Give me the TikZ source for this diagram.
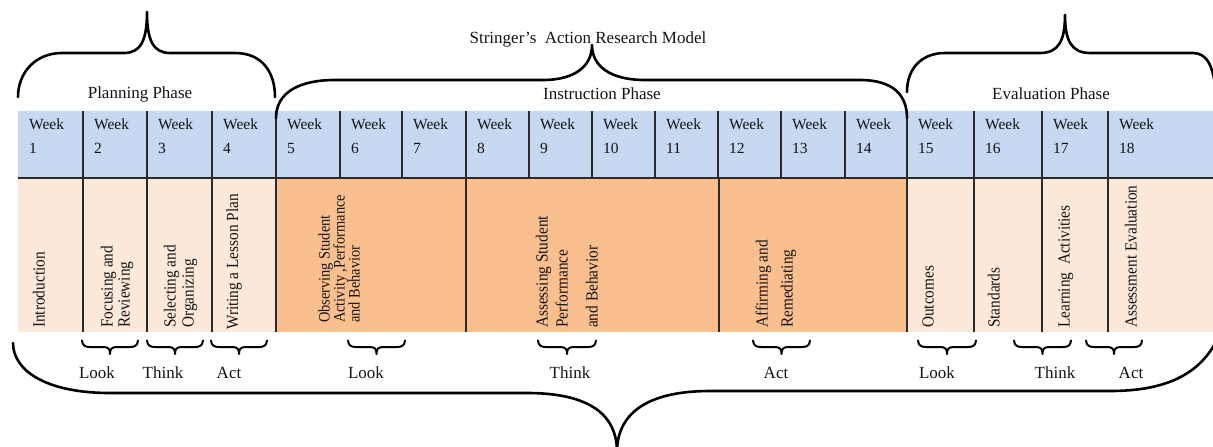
\documentclass[tikz,border=0pt]{standalone}
\usepackage{fontspec}
\usepackage{graphicx}
\setmainfont{Liberation Serif}
\definecolor{weekblue}{HTML}{C6D9F1}
\definecolor{peach}{HTML}{FDE9D9}
\definecolor{orng}{HTML}{FABF8F}
\definecolor{gridc}{HTML}{2B2B2B}
\definecolor{txt}{HTML}{141414}
\newcommand\vtx[1]{\scalebox{0.9}[1]{#1}}
\newcommand\mybrace[2]{%
  \pgfmathsetmacro\sbL{#1}\pgfmathsetmacro\sbR{#2}\pgfmathsetmacro\sbC{(#1+#2)/2}%
  \draw[smallbrace] (\sbL,340.5) .. controls (\sbL+0.5,345.5) and (\sbL+3,347) .. (\sbL+8,347) -- (\sbC-7,347)
    .. controls (\sbC-1.5,347) and (\sbC,349) .. (\sbC,354) .. controls (\sbC,349) and (\sbC+1.5,347) .. (\sbC+7,347)
    -- (\sbR-8,347) .. controls (\sbR-3,347) and (\sbR-0.5,345.5) .. (\sbR,340.5);}
\begin{document}
\begin{tikzpicture}[x=1pt,y=-1pt,
  wk/.style={font=\fontsize{15.5}{17}\selectfont, anchor=base west, inner sep=0pt, text=txt},
  vt/.style={font=\fontsize{17}{19}\selectfont, rotate=90, anchor=base west, inner sep=0pt, text=txt},
  vts/.style={vt, font=\fontsize{16}{18}\selectfont},
  lbl/.style={font=\fontsize{17}{20}\selectfont, anchor=base, inner sep=0pt, text=txt},
  bigbrace/.style={line width=2.6pt, line cap=round, line join=round},
  smallbrace/.style={line width=2pt, line cap=round, line join=round},
  gridline/.style={line width=1.1pt, draw=gridc}]
\useasboundingbox (0,0) rectangle (1213,447);
\clip (0,0) rectangle (1213,447);
\fill[white] (0,0) rectangle (1213,447);

% table backgrounds
\fill[weekblue] (18,111) rectangle (1213,178);
\fill[peach] (18,178) rectangle (276,332);
\fill[orng] (276,178) rectangle (907,332);
\fill[peach] (907,178) rectangle (1213,332);

% grid
\draw[gridline] (18,178) -- (1213,178);
\foreach \x in {83,147,212,276,340,402,466,529,592,655,718,781,845,907,974,1042,1108}
  \draw[gridline] (\x,111) -- (\x,178);
\foreach \x in {83,147,212,276,466,719,907,974,1042,1108}
  \draw[gridline] (\x,178) -- (\x,332);

% week labels
\foreach \x [count=\i] in {18,83,147,212,276,340,402,466,529,592,655,718,781,845,907,974,1042,1108} {
  \node[wk] (w\i) at (\x+11,129) {Week};
  \node[wk] (n\i) at (\x+11,153) {\i};
}

% vertical activity texts
\node[vt] (t1) at (44.5,328) {\vtx{Introduction}};
\node[vt] (t2a) at (112.5,328) {\vtx{Focusing and}};
\node[vt] (t2b) at (129.5,328) {\vtx{Reviewing}};
\node[vt] (t3a) at (175.5,328) {\vtx{Selecting and}};
\node[vt] (t3b) at (193.5,328) {\vtx{Organizing}};
\node[vt] (t4) at (238,330) {\vtx{Writing a Lesson Plan}};
\node[vts] (t5a) at (329.5,323) {\vtx{Observing Student}};
\node[vts] (t5b) at (344.5,323) {\vtx{Activity ,Performance}};
\node[vts] (t5c) at (359.5,323) {\vtx{and Behavior}};
\node[vt] (t6a) at (547.5,328) {\vtx{Assessing Student}};
\node[vt] (t6b) at (567.5,328) {\vtx{Performance}};
\node[vt] (t6c) at (597.5,328) {\vtx{and Behavior}};
\node[vt] (t7a) at (767.5,328) {\vtx{Affirming and}};
\node[vt] (t7b) at (792.5,328) {\vtx{Remediating}};
\node[vt] (t8) at (933.5,328) {\vtx{Outcomes}};
\node[vt] (t9) at (999.5,328) {\vtx{Standards}};
\node[vt] (t10) at (1069.5,328) {\vtx{Learning\ \ Activities}};
\node[vt] (t11) at (1136.5,328) {\vtx{Assessment Evaluation}};

% phase labels and title
\node[lbl] (title) at (588,43) {Stringer’s\ \ Action Research Model};
\node[lbl] (pp) at (140,98) {Planning Phase};
\node[lbl] (ip) at (602,99) {Instruction Phase};
\node[lbl] (ep) at (1051,99) {Evaluation Phase};

% top braces
\draw[bigbrace] (18,97) .. controls (18,72) and (36,53) .. (62,53) -- (124,53)
  .. controls (141,53) and (147,40) .. (147,12)
  .. controls (147,40) and (153,53) .. (170,53) -- (235,53)
  .. controls (262,53) and (275,72) .. (275,97);
\draw[bigbrace] (276,118) .. controls (276,92) and (300,80) .. (335,80) -- (543,80)
  .. controls (575,80) and (592,66) .. (592,45)
  .. controls (592,66) and (610,80) .. (645,80) -- (860,80)
  .. controls (893,80) and (907,95) .. (907,118);
\draw[bigbrace] (907,92) .. controls (907,68) and (922,53) .. (945,53) -- (1040,53)
  .. controls (1059,53) and (1065,40) .. (1065,15)
  .. controls (1065,40) and (1071,53) .. (1090,53) -- (1193,53)
  .. controls (1207,53) and (1214,66) .. (1216,95);

% bottom big brace
\draw[bigbrace] (13,343) .. controls (13,370) and (45,393) .. (110,393) -- (527,393)
  .. controls (590,393) and (617,415) .. (617,452)
  .. controls (617,415) and (645,391) .. (710,391) -- (1110,391)
  .. controls (1165,391) and (1200,375) .. (1218,338);

% small braces
\mybrace{82}{138}
\mybrace{147}{203}
\mybrace{211}{267}
\mybrace{348}{405}
\mybrace{538}{596}
\mybrace{753}{810}
\mybrace{918}{976}
\mybrace{1014}{1071}
\mybrace{1086}{1142}

% look / think / act
\node[lbl] (l1) at (97,378) {Look};
\node[lbl] (k1) at (163,378) {Think};
\node[lbl] (a1) at (229,378) {Act};
\node[lbl] (l2) at (366,378) {Look};
\node[lbl] (k2) at (570,378) {Think};
\node[lbl] (a2) at (776,378) {Act};
\node[lbl] (l3) at (937,378) {Look};
\node[lbl] (k3) at (1055,378) {Think};
\node[lbl] (a3) at (1131,378) {Act};
\end{tikzpicture}
\end{document}
